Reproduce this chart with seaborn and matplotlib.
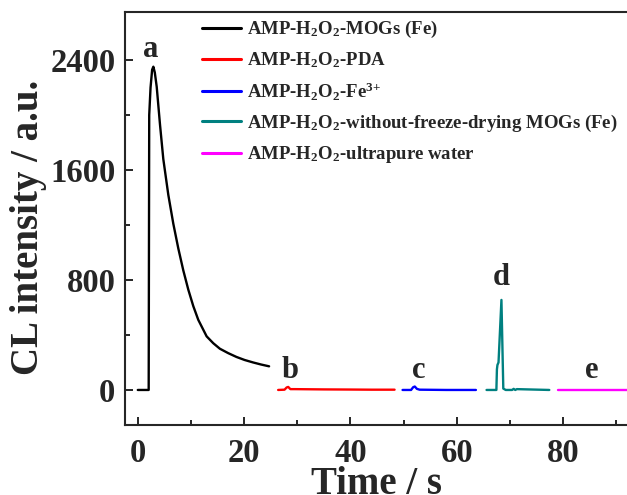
import numpy as np
import pandas as pd
import matplotlib
matplotlib.use("Agg")
import matplotlib.pyplot as plt
import seaborn as sns
from matplotlib.ticker import MultipleLocator

# ---- data ----
time_a = [0.0, 2.05, 2.15, 2.4, 2.7, 2.93, 3.2, 3.56, 4.18, 4.8, 5.74, 6.68, 7.62, 8.56, 9.5,
          10.44, 11.38, 12.95, 14.2, 15.44, 17.0, 18.57, 20.1, 21.7, 23.2, 24.7]
cl_a = [0, 0, 2000, 2200, 2330, 2352, 2310, 2206, 1930, 1680, 1420, 1210, 1030, 870, 730,
        610, 510, 390, 340, 300, 268, 240, 218, 200, 185, 172]

time_b = [26.4, 27.6, 28.0, 28.3, 28.7, 29.5, 35.0, 40.0, 44.0, 48.3]
cl_b = [0, 2, 18, 22, 6, 6, 4, 3, 2, 2]

time_c = [49.8, 51.4, 51.8, 52.1, 52.5, 53.0, 58.0, 63.6]
cl_c = [0, 0, 20, 25, 8, 2, 0, 0]

time_d = [65.6, 67.45, 67.55, 67.65, 67.85, 68.4, 68.75, 69.2, 70.4, 70.7, 71.0, 71.3, 77.4]
cl_d = [0, 0, 150, 182, 200, 655, 10, 0, 0, 8, 0, 6, 0]

time_e = [79.0, 85.0, 92.5]
cl_e = [0, 0, 0]

series_names = [
    "AMP-H2O2-MOGs (Fe)",
    "AMP-H2O2-PDA",
    "AMP-H2O2-Fe3+",
    "AMP-H2O2-without-freeze-drying MOGs (Fe)",
    "AMP-H2O2-ultrapure water",
]
legend_labels = [
    r"AMP-H$_{\mathbf{2}}$O$_{\mathbf{2}}$-MOGs (Fe)",
    r"AMP-H$_{\mathbf{2}}$O$_{\mathbf{2}}$-PDA",
    r"AMP-H$_{\mathbf{2}}$O$_{\mathbf{2}}$-Fe$^{\mathbf{3}{+}}$",
    r"AMP-H$_{\mathbf{2}}$O$_{\mathbf{2}}$-without-freeze-drying MOGs (Fe)",
    r"AMP-H$_{\mathbf{2}}$O$_{\mathbf{2}}$-ultrapure water",
]
colors = ["#000000", "#FF0000", "#0000FF", "#008080", "#FF00FF"]
curve_letters = ["a", "b", "c", "d", "e"]
letter_x = [2.4, 28.6, 52.8, 68.4, 85.4]
letter_y = [2420, 87, 87, 763, 87]

x_ticks = [0, 20, 40, 60, 80]
y_ticks = [0, 800, 1600, 2400]

# ---- build long-form table ----
frames = []
for name, t, v in zip(series_names,
                      [time_a, time_b, time_c, time_d, time_e],
                      [cl_a, cl_b, cl_c, cl_d, cl_e]):
    frames.append(pd.DataFrame({"Time": t, "CL": v, "Sample": name}))
df = pd.concat(frames, ignore_index=True)

sns.set_style("ticks")
plt.rcParams["font.family"] = ["Liberation Serif", "DejaVu Serif"]
plt.rcParams["font.weight"] = "bold"
plt.rcParams["mathtext.fontset"] = "custom"
plt.rcParams["mathtext.rm"] = "Liberation Serif:bold"
plt.rcParams["mathtext.bf"] = "Liberation Serif:bold"
plt.rcParams["mathtext.it"] = "Liberation Serif:bold"

fig = plt.figure(figsize=(6.27, 4.95), dpi=100)
ax = fig.add_axes([0.1994, 0.1414, 0.803, 0.8344])

sns.lineplot(data=df, x="Time", y="CL", hue="Sample", hue_order=series_names,
             palette=dict(zip(series_names, colors)), estimator=None, sort=False,
             linewidth=1.7, ax=ax, legend=False)
for ln in ax.get_lines():
    ln.set_solid_joinstyle("round")

ax.set_xlim(-2.4, 92.3)
ax.set_ylim(-255, 2750)
ax.set_xticks(x_ticks)
ax.set_yticks(y_ticks)
ax.xaxis.set_minor_locator(MultipleLocator(10))
ax.yaxis.set_minor_locator(MultipleLocator(400))
ax.tick_params(which="both", direction="in", width=1.4)
ax.tick_params(which="major", length=6, labelsize=23.5, pad=7)
ax.tick_params(axis="x", which="major", pad=9)
ax.tick_params(which="minor", length=3.5)
ax.tick_params(axis="y", which="both", right=False)
for lab in ax.get_xticklabels() + ax.get_yticklabels():
    lab.set_fontweight("bold")
for s in ax.spines.values():
    s.set_linewidth(1.5)
ax.spines["right"].set_visible(False)

ax.set_xlabel("Time / s", fontsize=28, fontweight="bold", va="baseline")
ax.set_ylabel("CL intensity / a.u.", fontsize=28, fontweight="bold")
ax.xaxis.set_label_coords(0.5, -0.166)
ax.yaxis.set_label_coords(-0.155, 0.478)

for L, xx, yy in zip(curve_letters, letter_x, letter_y):
    ax.text(xx, yy, L, fontsize=22, fontweight="bold", ha="center", va="baseline")

handles = [plt.Line2D([], [], color=c, linewidth=2.2) for c in colors]
leg = ax.legend(handles, legend_labels, loc="upper left",
                bbox_to_anchor=(202 / 627, 1 - 19 / 495), bbox_transform=fig.transFigure,
                frameon=False, fontsize=13.5, handlelength=2.1, handletextpad=0.3,
                labelspacing=0.55, borderpad=0, borderaxespad=0)
for t in leg.get_texts():
    t.set_fontweight("bold")

fig.savefig("out.png", dpi=100)
